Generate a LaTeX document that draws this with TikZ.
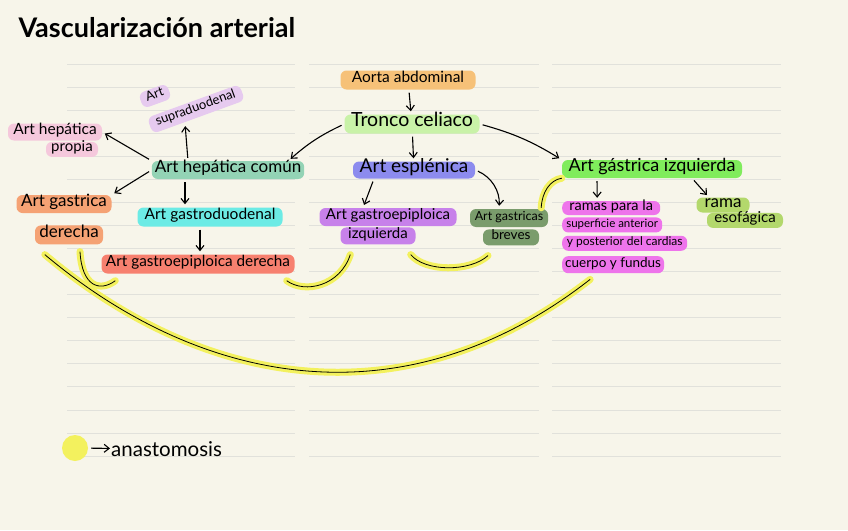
\documentclass[tikz,border=0pt]{standalone}
\usepackage{fontspec}
\setmainfont{Lato}
\usepackage{tikz}
\usetikzlibrary{positioning,arrows.meta}
\definecolor{paper}{HTML}{F7F5EA}
\definecolor{ruling}{HTML}{E1E1DB}
\definecolor{hlaorta}{HTML}{F6C178}
\definecolor{hltronco}{HTML}{C9F2A8}
\definecolor{hlesplen}{HTML}{8C8BEE}
\definecolor{hlgei}{HTML}{C781EA}
\definecolor{hlbreves}{HTML}{7A9C6C}
\definecolor{hlhcom}{HTML}{93D3B5}
\definecolor{hlsupra}{HTML}{E6CAEF}
\definecolor{hlprop}{HTML}{F5C8DC}
\definecolor{hlgder}{HTML}{F5A274}
\definecolor{hlgduo}{HTML}{6CEBE5}
\definecolor{hlgepd}{HTML}{F7806F}
\definecolor{hlgizq}{HTML}{80EC5C}
\definecolor{hlesof}{HTML}{B3D86C}
\definecolor{hlramas}{HTML}{EE74EB}
\definecolor{hlyellow}{HTML}{F3F15E}
\newcommand{\fsz}[1]{\fontsize{#1}{#1}\selectfont}

\begin{document}
\begin{tikzpicture}[x=1pt, y=-1pt,
  node distance=1pt,
  pill/.style={fill=#1, rounded corners=6pt, inner xsep=3pt, inner ysep=0pt, text height=0.7em, text depth=0.2em},
  arr/.style={-{Straight Barb[length=5pt,width=8pt]}, line width=1.1pt, shorten <=3pt, shorten >=3pt},
  anas/.style={line width=0.8pt, preaction={draw=hlyellow, line width=7pt, line cap=round}}
]
\fill[paper] (0,0) rectangle (848,530);
\foreach \k [evaluate=\k as \ry using 64+23.06*\k] in {0,...,17}
  \draw[ruling, line width=0.8pt] (67,\ry) -- (295,\ry) (309,\ry) -- (539,\ry) (552,\ry) -- (781,\ry);

\node[anchor=west, font=\fsz{27}\bfseries] (title) at (15,28) {Vascularización arterial};

% tronco celiaco
\node[pill=hlaorta, minimum width=135, minimum height=19, font=\fsz{15.5}] (aorta) at (408,80) {Aorta abdominal};
\node[pill=hltronco, minimum width=135, minimum height=19, font=\fsz{19.5}] (tronco) at (412,124) {Tronco celiaco};
\node[pill=hlesplen, minimum width=122, minimum height=17, font=\fsz{19}] (esplen) at (414,170) {Art esplénica};
\node[pill=hlgei, minimum width=137, minimum height=18, font=\fsz{15}] (gei1) at (388,217) {Art gastroepiploica};
\node[pill=hlgei, minimum width=75, minimum height=17, font=\fsz{15}, below=1pt of gei1, xshift=-10] (gei2) {izquierda};
\node[pill=hlbreves, minimum width=78, minimum height=18, font=\fsz{12.5}] (gbr1) at (509,218) {Art gastricas};
\node[pill=hlbreves, minimum width=56, minimum height=16, font=\fsz{13.5}, below=2pt of gbr1, xshift=2] (gbr2) {breves};

% hepatica
\node[pill=hlhcom, minimum width=151, minimum height=18, font=\fsz{17}] (hcom) at (228,170) {Art hepática común};
\node[pill=hlsupra, minimum width=30, minimum height=16, font=\fsz{13}, rotate=20] (supra1) at (155,96) {Art};
\node[pill=hlsupra, minimum width=98, minimum height=17, font=\fsz{13}, rotate=20] (supra2) at (196,109) {supraduodenal};
\node[pill=hlprop, minimum width=94, minimum height=17, font=\fsz{15.5}] (hprop1) at (55,132) {Art hepática};
\node[pill=hlprop, minimum width=52, minimum height=15, font=\fsz{15}, below=1pt of hprop1, xshift=17] (hprop2) {propia};
\node[pill=hlgder, minimum width=95, minimum height=18, font=\fsz{17}] (gder1) at (64,204) {Art gastrica};
\node[pill=hlgder, minimum width=68, minimum height=19, font=\fsz{17}, below=12pt of gder1, xshift=5] (gder2) {derecha};
\node[pill=hlgduo, minimum width=145, minimum height=19, font=\fsz{15.5}] (gduo) at (210,217) {Art gastroduodenal};
\node[pill=hlgepd, minimum width=193, minimum height=19, font=\fsz{15.3}] (gepd) at (198,264) {Art gastroepiploica derecha};

% gastrica izquierda
\node[pill=hlgizq, minimum width=180, minimum height=18, font=\fsz{18}] (gizq) at (652,169) {Art gástrica izquierda};
\node[pill=hlesof, minimum width=53, minimum height=15, font=\fsz{17}] (esof1) at (723,205) {rama};
\node[pill=hlesof, minimum width=76, minimum height=15, font=\fsz{15}, below=0pt of esof1, xshift=22] (esof2) {esofágica};
\node[pill=hlramas, minimum width=98, minimum height=14, font=\fsz{14.5}, anchor=west] (ramas1) at (562,208) {ramas para la};
\node[pill=hlramas, minimum width=100, minimum height=15, font=\fsz{11.5}, below right=2pt and 0pt of ramas1.south west] (ramas2) {superficie anterior};
\node[pill=hlramas, minimum width=125, minimum height=15, font=\fsz{12}, below right=3pt and 0pt of ramas2.south west] (ramas3) {y posterior del cardias};
\node[pill=hlramas, minimum width=98, minimum height=17, font=\fsz{13.5}, below right=5pt and 0pt of ramas3.south west] (ramas4) {cuerpo y fundus};

\draw[arr] (aorta) -- (tronco);
\draw[arr] (tronco.west) to[bend right=8] ([xshift=-16]hcom.north east);
\draw[arr] (tronco) -- (esplen);
\draw[arr] (tronco.east) to[bend left=8] (gizq.north west);
\draw[arr] ([xshift=-40]esplen.south) -- ([xshift=-25]gei1.north);
\draw[arr] (esplen.east) to[bend left=35] ([xshift=-10]gbr1.north);
\draw[arr] (hcom.north west) -- (hprop1.east);
\draw[arr] ([xshift=-40]hcom.north) -- ([shift={(-14,6)}]supra2.south);
\draw[arr] (hcom.west) -- (gder1.north east);
\draw[arr] ([xshift=-43]hcom.south) -- ([xshift=-25]gduo.north);
\draw[arr] ([xshift=-10]gduo.south) -- ([xshift=2]gepd.north);
\draw[arr] ([xshift=-55]gizq.south) -- ([xshift=-14]ramas1.north);
\draw[arr] ([xshift=40]gizq.south) -- ([xshift=-14]esof1.north);

% anastomosis
\draw[anas] ([shift={(10,10)}]gder2.south west) .. controls (207,391) and (409,421) .. ([shift={(-23,6)}]ramas4.south);
\draw[anas] ([shift={(11,7)}]gder2.south) .. controls (82,287) and (100,292) .. ([shift={(14,7)}]gepd.south west);
\draw[anas] ([shift={(-8,7)}]gepd.south east) .. controls (305,294) and (340,286) .. ([shift={(10,10)}]gei2.south west);
\draw[anas] ([shift={(-5,10)}]gei2.south east) .. controls (425,272) and (470,272) .. ([shift={(-23,10)}]gbr2.south);
\draw[anas] ([shift={(-7,-1)}]gbr1.north east) .. controls (542,192) and (550,180) .. (gizq.south west);

\node[circle, fill=hlyellow, minimum size=26, inner sep=0pt] (key) at (75,448) {};
\node[anchor=west, inner xsep=1pt, font=\fsz{20.5}] (keytxt) at (110,449) {anastomosis};
\draw[arr, shorten >=0pt] (key) -- (keytxt);
\end{tikzpicture}
\end{document}
